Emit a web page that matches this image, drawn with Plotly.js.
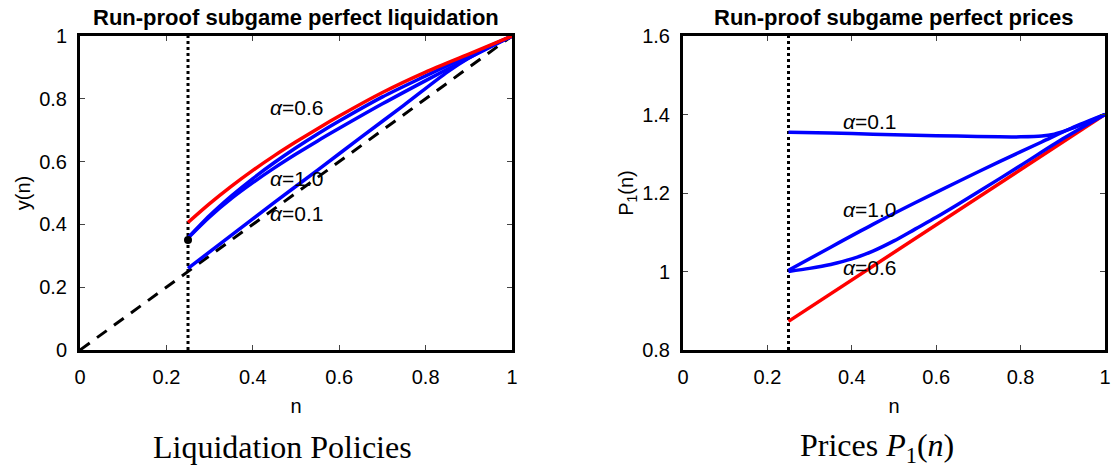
<!DOCTYPE html>
<html>
<head>
<meta charset="utf-8">
<script src="https://cdn.plot.ly/plotly-3.0.1.min.js"></script>
<style>html,body{margin:0;padding:0;background:#fff;}#chart{width:1111px;height:468px;}</style>
</head>
<body>
<div id="chart"></div>
<script>
// ---------- Left panel: liquidation policies y(n) ----------
const nLiqRed   = [0.25, 0.30, 0.35, 0.40, 0.45, 0.50, 0.55, 0.60, 0.70, 0.80, 0.90, 1.00];
const yLiqRed   = [0.406, 0.466, 0.521, 0.572, 0.619, 0.663, 0.705, 0.745, 0.82, 0.885, 0.942, 1.00];
const nLiqA     = [0.25, 0.30, 0.35, 0.40, 0.45, 0.50, 0.55, 0.60, 0.70, 0.80, 0.90, 1.00];
const yLiqA     = [0.357, 0.428, 0.49, 0.546, 0.597, 0.644, 0.688, 0.729, 0.806, 0.873, 0.938, 1.00];
const nLiqB     = [0.25, 0.30, 0.35, 0.40, 0.45, 0.50, 0.55, 0.60, 0.70, 0.80, 0.90, 1.00];
const yLiqB     = [0.357, 0.424, 0.482, 0.533, 0.58, 0.624, 0.666, 0.706, 0.784, 0.858, 0.93, 1.00];
const nLiqLow   = [0.25, 0.35, 0.45, 0.55, 0.65, 0.75, 0.85, 0.90, 0.95, 1.00];
const yLiqLow   = [0.26, 0.365, 0.47, 0.573, 0.677, 0.78, 0.885, 0.93, 0.967, 1.00];
const nDiag     = [0, 1];
const yDiag     = [0, 1];
const nCut      = [0.25, 0.25];
const yCutLeft  = [0, 1];
const dotN      = [0.25];
const dotY      = [0.35];

// ---------- Right panel: prices P1(n) ----------
const nPr01     = [0.25, 0.35, 0.45, 0.55, 0.65, 0.75, 0.80, 0.85, 0.88, 0.91, 0.94, 0.97, 1.00];
const pPr01     = [1.355, 1.353, 1.350, 1.347, 1.345, 1.343, 1.343, 1.345, 1.350, 1.360, 1.372, 1.386, 1.40];
const nPr10     = [0.25, 0.35, 0.45, 0.55, 0.65, 0.75, 0.85, 0.92, 1.00];
const pPr10     = [1.003, 1.062, 1.12, 1.175, 1.228, 1.28, 1.33, 1.365, 1.40];
const nPr06     = [0.25, 0.30, 0.35, 0.40, 0.45, 0.50, 0.55, 0.60, 0.65, 0.70, 0.80, 0.90, 1.00];
const pPr06     = [1.0, 1.008, 1.018, 1.032, 1.052, 1.078, 1.108, 1.138, 1.17, 1.203, 1.27, 1.338, 1.40];
const nPrRed    = [0.25, 1.00];
const pPrRed    = [0.873, 1.40];
const yCutRight = [0.8, 1.6];

const labelsLeft  = ['<i>α</i>=0.6', '<i>α</i>=1.0', '<i>α</i>=0.1'];
const labelsLeftX = [0.435, 0.435, 0.435];
const labelsLeftY = [0.771, 0.545, 0.436];
const labelsRight  = ['<i>α</i>=0.1', '<i>α</i>=1.0', '<i>α</i>=0.6'];
const labelsRightX = [0.374, 0.374, 0.374];
const labelsRightY = [1.383, 1.159, 1.011];

const BLUE = '#0000ff', RED = '#ff0000';
const LW = 3.5;
const FONT = 'Liberation Sans, Arial, sans-serif';
const FS = 20;

const curve = (x, y, color, xa, ya) => ({x: x, y: y, mode: 'lines',
  line: {color: color, width: LW, shape: 'spline', smoothing: 0.8}, xaxis: xa, yaxis: ya});

const traces = [
  {x: nCut, y: yCutLeft, mode: 'lines', line: {color: 'black', width: 3, dash: 'dot'}, xaxis: 'x', yaxis: 'y'},
  {x: nDiag, y: yDiag, mode: 'lines', line: {color: 'black', width: 3, dash: '12px,9px'}, xaxis: 'x', yaxis: 'y'},
  curve(nLiqLow, yLiqLow, BLUE, 'x', 'y'),
  curve(nLiqB, yLiqB, BLUE, 'x', 'y'),
  curve(nLiqA, yLiqA, BLUE, 'x', 'y'),
  curve(nLiqRed, yLiqRed, RED, 'x', 'y'),
  {x: dotN, y: dotY, mode: 'markers', marker: {color: 'black', size: 8}, xaxis: 'x', yaxis: 'y'},

  {x: nCut, y: yCutRight, mode: 'lines', line: {color: 'black', width: 3, dash: 'dot'}, xaxis: 'x2', yaxis: 'y2'},
  {x: nPrRed, y: pPrRed, mode: 'lines', line: {color: RED, width: LW}, xaxis: 'x2', yaxis: 'y2'},
  curve(nPr06, pPr06, BLUE, 'x2', 'y2'),
  curve(nPr10, pPr10, BLUE, 'x2', 'y2'),
  curve(nPr01, pPr01, BLUE, 'x2', 'y2')
];

const axBase = {
  showline: true, linecolor: 'black', linewidth: 3, mirror: 'allticks',
  ticks: 'inside', ticklen: 5, tickwidth: 1, tickcolor: '#444',
  showgrid: false, zeroline: false,
  tickfont: {family: FONT, size: FS, color: 'black'}
};

const annotations = [];
labelsLeft.forEach((t, i) => annotations.push({
  xref: 'x', yref: 'y', x: labelsLeftX[i], y: labelsLeftY[i], text: t, showarrow: false,
  xanchor: 'left', yanchor: 'middle', font: {family: FONT, size: 21, color: 'black'}
}));
labelsRight.forEach((t, i) => annotations.push({
  xref: 'x2', yref: 'y2', x: labelsRightX[i], y: labelsRightY[i], text: t, showarrow: false,
  xanchor: 'left', yanchor: 'middle', font: {family: FONT, size: 21, color: 'black'}
}));
annotations.push(
  {xref: 'paper', yref: 'paper', x: 0.2107, y: 1.0605, text: '<b>Run-proof subgame perfect liquidation</b>',
   showarrow: false, xanchor: 'center', yanchor: 'middle', font: {family: FONT, size: 22, color: 'black'}},
  {xref: 'paper', yref: 'paper', x: 0.794, y: 1.0605, text: '<b>Run-proof subgame perfect prices</b>',
   showarrow: false, xanchor: 'center', yanchor: 'middle', font: {family: FONT, size: 22, color: 'black'}},
  {xref: 'paper', yref: 'paper', x: 0.198, y: -0.31, text: 'Liquidation Policies',
   showarrow: false, xanchor: 'center', yanchor: 'middle', font: {family: 'Liberation Serif, serif', size: 32, color: 'black'}},
  {xref: 'paper', yref: 'paper', x: 0.7776, y: -0.31, text: 'Prices <i>P</i><sub>1</sub>(<i>n</i>)',
   showarrow: false, xanchor: 'center', yanchor: 'middle', font: {family: 'Liberation Serif, serif', size: 32, color: 'black'}}
);

const xTitle = {text: 'n', font: {family: FONT, size: FS, color: 'black'}, standoff: 12};

const layout = {
  width: 1111, height: 468,
  margin: {l: 80, r: 6, t: 36, b: 118},
  paper_bgcolor: 'white', plot_bgcolor: 'white',
  showlegend: false,
  xaxis: Object.assign({}, axBase, {domain: [0, 0.4215], range: [0, 1], dtick: 0.2, tick0: 0, anchor: 'y',
    ticklabelstandoff: 7, title: xTitle}),
  yaxis: Object.assign({}, axBase, {domain: [0, 1], range: [0, 1], dtick: 0.2, tick0: 0, anchor: 'x',
    ticklabelstandoff: 6,
    title: {text: 'y(n)', font: {family: FONT, size: FS, color: 'black'}, standoff: 4}}),
  xaxis2: Object.assign({}, axBase, {domain: [0.5883, 1], range: [0, 1], dtick: 0.2, tick0: 0, anchor: 'y2',
    ticklabelstandoff: 7, title: xTitle}),
  yaxis2: Object.assign({}, axBase, {domain: [0, 1], range: [0.8, 1.6], dtick: 0.2, tick0: 0, anchor: 'x2',
    ticklabelstandoff: 6,
    title: {text: 'P<sub>1</sub>(n)', font: {family: FONT, size: FS, color: 'black'}, standoff: 4}}),
  annotations: annotations
};

Plotly.newPlot('chart', traces, layout, {displayModeBar: false, staticPlot: true});
</script>
</body>
</html>
